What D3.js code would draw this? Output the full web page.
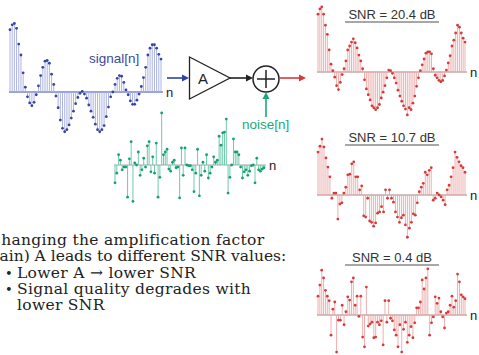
<!DOCTYPE html>
<html>
<head>
<meta charset="utf-8">
<script src="https://cdn.jsdelivr.net/npm/d3@7/dist/d3.min.js"></script>
<style>
  body { margin: 0; background: #fff; }
  text { font-family: "Liberation Sans", Arial, sans-serif; }
  text.note { font-family: "DejaVu Serif", serif; }
</style>
</head>
<body>
<svg id="fig"></svg>
<script>
// input signal (amplitude, max = 1)
const signal = [0.91, 0.98, 1.00, 0.93, 0.70, 0.54, 0.28, 0.07, -0.07, -0.16,
  -0.20, -0.15, -0.04, 0.09, 0.24, 0.36, 0.45, 0.46, 0.42, 0.26,
  0.11, -0.06, -0.23, -0.41, -0.53, -0.58, -0.55, -0.48, -0.38, -0.28,
  -0.17, -0.08, -0.02, 0.01, -0.03, -0.09, -0.19, -0.28, -0.37, -0.47,
  -0.55, -0.58, -0.55, -0.49, -0.36, -0.22, -0.07, 0.00, 0.11, 0.20,
  0.24, 0.23, 0.14, 0.03, -0.04, -0.13, -0.18, -0.18, -0.12, -0.03,
  0.08, 0.21, 0.36, 0.54, 0.64, 0.69, 0.69, 0.64, 0.55, 0.48];

// noise, same units as the signal
const noise = [-0.26, -0.12, 0.15, 0.07, -0.07, -0.03, -0.03, -0.47, 0.09, 0.34,
  -0.53, 0.03, 0.00, 0.19, -0.15, -0.07, 0.10, -0.03, 0.28, 0.34,
  -0.10, 0.12, -0.12, 0.32, -0.47, -0.18, 0.76, 0.15, 0.19, 0.23,
  -0.06, -0.09, 0.04, 0.07, -0.04, -0.03, -0.48, 0.25, -0.15, 0.25,
  0.00, -0.01, -0.01, -0.07, -0.39, -0.12, 0.23, -0.45, -0.15, 0.04,
  -0.09, 0.15, -0.19, -0.12, -0.03, 0.12, 0.04, 0.07, 0.42, 0.29,
  0.47, 0.48, 0.67, -0.41, -0.18, 0.00, 0.38, 0.19, 0.19, 0.15,
  -0.03, -0.19, -0.10, -0.07, -0.15, -0.09, -0.01, 0.00, -0.26, 0.10,
  -0.07, -0.09, -0.06, -0.04];

// received signal for the three gains
const out20 = [0.89, 0.97, 1.00, 0.89, 0.72, 0.58, 0.34, 0.12, 0.02, -0.08,
  -0.21, -0.27, -0.16, -0.04, 0.05, 0.17, 0.34, 0.40, 0.46, 0.51,
  0.45, 0.37, 0.26, 0.17, 0.05, -0.12, -0.26, -0.35, -0.43, -0.52,
  -0.55, -0.58, -0.55, -0.50, -0.40, -0.31, -0.21, -0.09, 0.03, 0.02,
  -0.02, -0.09, -0.17, -0.28, -0.37, -0.45, -0.52, -0.57, -0.66, -0.55,
  -0.58, -0.48, -0.37, -0.22, -0.09, 0.02, 0.11, 0.20, 0.29, 0.31,
  0.31, 0.28, 0.05, -0.05, -0.09, -0.13, -0.15, -0.13, -0.06, 0.03,
  0.14, 0.25, 0.40, 0.49, 0.60, 0.72, 0.69, 0.60, 0.52, 0.46];

const out10 = [0.66, 0.75, 0.86, 0.74, 0.57, 0.43, 0.28, -0.05, 0.03, 0.03,
  -0.37, -0.14, -0.12, 0.03, 0.12, 0.31, 0.32, 0.48, 0.51, 0.28,
  0.28, 0.08, 0.14, -0.32, -0.34, -0.05, -0.40, -0.42, -0.48, -0.43,
  -0.28, -0.26, -0.18, -0.26, 0.08, -0.05, 0.08, -0.05, -0.11, -0.26,
  -0.34, -0.42, -0.35, -0.31, -0.46, -0.65, -0.51, -0.42, -0.29, -0.31,
  -0.12, 0.05, 0.12, 0.18, 0.35, 0.31, 0.38, 0.42, -0.08, -0.05,
  0.03, 0.00, -0.03, -0.08, -0.15, 0.08, 0.15, 0.28, 0.42, 0.66,
  0.58, 0.51, 0.45, 0.42, 0.35];

const out04 = [0.29, 0.46, 0.69, 0.57, 0.38, 0.29, 0.22, -0.31, 0.09, 0.20,
  -0.57, -0.08, -0.08, 0.15, -0.15, 0.05, 0.28, 0.23, 0.51, 0.57,
  0.15, 0.29, -0.02, 0.29, -0.34, -0.49, 0.43, -0.17, -0.14, -0.11,
  -0.35, -0.34, -0.11, -0.15, -0.09, -0.46, 0.22, -0.11, 0.22, -0.05,
  -0.09, -0.23, -0.31, -0.49, -0.15, -0.57, -0.22, -0.11, -0.42, -0.31,
  -0.18, -0.35, -0.12, 0.11, 0.11, 0.20, 0.54, 0.40, 0.57, 0.71,
  -0.31, -0.12, -0.03, 0.28, 0.18, 0.26, 0.05, -0.03, -0.20, 0.03,
  0.05, 0.15, 0.29, 0.12, 0.22, 0.63, 0.51, 0.31, 0.28, 0.25];

const snrTitles = ["SNR = 20.4 dB", "SNR = 10.7 dB", "SNR = 0.4 dB"];

const notes = [
  "Changing the amplification factor",
  "(gain) A leads to different SNR values:",
  "Lower A \u2192 lower SNR",
  "Signal quality degrades with",
  "lower SNR"
];
const bulleted = [false, false, true, true, false];

const W = 479, H = 355;
const svg = d3.select('#fig').attr('width', W).attr('height', H);
svg.append('rect').attr('width', W).attr('height', H).attr('fill', '#fff');

// one stem plot with a baseline and an "n" label
function stemPlot(data, o) {
  const x = d3.scaleLinear().domain([0, data.length - 1]).range([o.x0, o.x1]);
  const y = d3.scaleLinear().domain([-1, 1]).range([o.base + o.k, o.base - o.k]);
  const g = svg.append('g');

  g.append('line')
    .attr('x1', o.x0 - 1).attr('x2', o.x1 + 2)
    .attr('y1', y(0)).attr('y2', y(0))
    .attr('stroke', o.axis).attr('stroke-width', 1.3);

  g.selectAll('line.stem')
    .data(data)
    .enter().append('line')
    .attr('class', 'stem')
    .attr('x1', (d, i) => x(i)).attr('x2', (d, i) => x(i))
    .attr('y1', y(0)).attr('y2', d => y(d))
    .attr('stroke', o.stem).attr('stroke-width', 0.9);

  g.selectAll('circle')
    .data(data)
    .enter().append('circle')
    .attr('cx', (d, i) => x(i)).attr('cy', d => y(d))
    .attr('r', 1.4).attr('fill', o.dot);

  g.append('text')
    .attr('x', o.x1 + 5).attr('y', y(0) + 5)
    .attr('font-size', 13).attr('fill', '#222')
    .text('n');
}

stemPlot(signal, { x0: 10, x1: 161, base: 92, k: 68.5,
  stem: '#a4abdc', dot: '#3545a0', axis: '#7b85c6' });
stemPlot(noise, { x0: 115, x1: 264, base: 165, k: 68.5,
  stem: '#62c3a2', dot: '#16a072', axis: '#c4c4c4' });

const redPlots = [out20, out10, out04];
const redBase = [72, 195, 315];
redPlots.forEach((d, j) => {
  stemPlot(d, { x0: 318, x1: 465, base: redBase[j], k: 65,
    stem: '#eba7a7', dot: '#d63b3b', axis: '#c9a9a9' });
  const ty = redBase[j] - 57;
  svg.append('text')
    .attr('x', 392).attr('y', ty + 4)
    .attr('text-anchor', 'middle')
    .attr('font-size', 13).attr('fill', '#333')
    .text(snrTitles[j]);
  svg.append('line')
    .attr('x1', 345).attr('x2', 439)
    .attr('y1', ty + 7).attr('y2', ty + 7)
    .attr('stroke', '#8a8a8a').attr('stroke-width', 1.5);
});

// block diagram
function arrow(x1, y1, x2, y2, color) {
  const a = Math.atan2(y2 - y1, x2 - x1);
  const L = 7, Wd = 3.5;
  const bx = x2 - L * Math.cos(a), by = y2 - L * Math.sin(a);
  svg.append('line')
    .attr('x1', x1).attr('y1', y1).attr('x2', bx).attr('y2', by)
    .attr('stroke', color).attr('stroke-width', 1.6);
  svg.append('path')
    .attr('d', `M${x2},${y2}L${bx - Wd * Math.sin(a)},${by + Wd * Math.cos(a)}L${bx + Wd * Math.sin(a)},${by - Wd * Math.cos(a)}Z`)
    .attr('fill', color);
}

svg.append('text')
  .attr('x', 89).attr('y', 63)
  .attr('font-size', 13.5).attr('fill', '#3a48a2')
  .text('signal[n]');

arrow(167, 78, 189, 78, '#2f43a6');

svg.append('path')
  .attr('d', 'M189.5,57L230,78L189.5,99Z')
  .attr('fill', '#fff').attr('stroke', '#222').attr('stroke-width', 1.3);
svg.append('text')
  .attr('x', 203).attr('y', 83.5)
  .attr('text-anchor', 'middle')
  .attr('font-size', 15).attr('fill', '#222')
  .text('A');

arrow(230, 78, 253, 78, '#222');

svg.append('circle')
  .attr('cx', 266).attr('cy', 79).attr('r', 13)
  .attr('fill', '#fff').attr('stroke', '#222').attr('stroke-width', 1.5);
svg.append('line').attr('x1', 257).attr('x2', 275).attr('y1', 79).attr('y2', 79)
  .attr('stroke', '#222').attr('stroke-width', 1.5);
svg.append('line').attr('x1', 266).attr('x2', 266).attr('y1', 70).attr('y2', 88)
  .attr('stroke', '#222').attr('stroke-width', 1.5);

arrow(279, 78, 306, 78, '#d63b3b');
arrow(266, 117, 266, 92, '#1aa874');

svg.append('text')
  .attr('x', 242).attr('y', 129)
  .attr('font-size', 13.5).attr('fill', '#1ea878')
  .text('noise[n]');

// notes at the bottom; the first two lines run off the left edge, as in the slide
const noteX = [-11, -16.5, 5, 5, 17];
const noteSpacing = [0.3, 0, 0.3, 0.3, 0.3];
const noteY = d3.scaleLinear().domain([0, notes.length - 1]).range([245, 310]);
notes.forEach((t, i) => {
  const tx = svg.append('text')
    .attr('class', 'note')
    .attr('x', noteX[i]).attr('y', noteY(i))
    .attr('font-size', 15.5).attr('fill', '#222');
  if (bulleted[i]) {
    tx.append('tspan').attr('font-size', 13).text('\u2022');
    tx.append('tspan').attr('x', 17).attr('letter-spacing', noteSpacing[i]).text(t);
  } else {
    tx.attr('letter-spacing', noteSpacing[i]).text(t);
  }
});
</script>
</body>
</html>
